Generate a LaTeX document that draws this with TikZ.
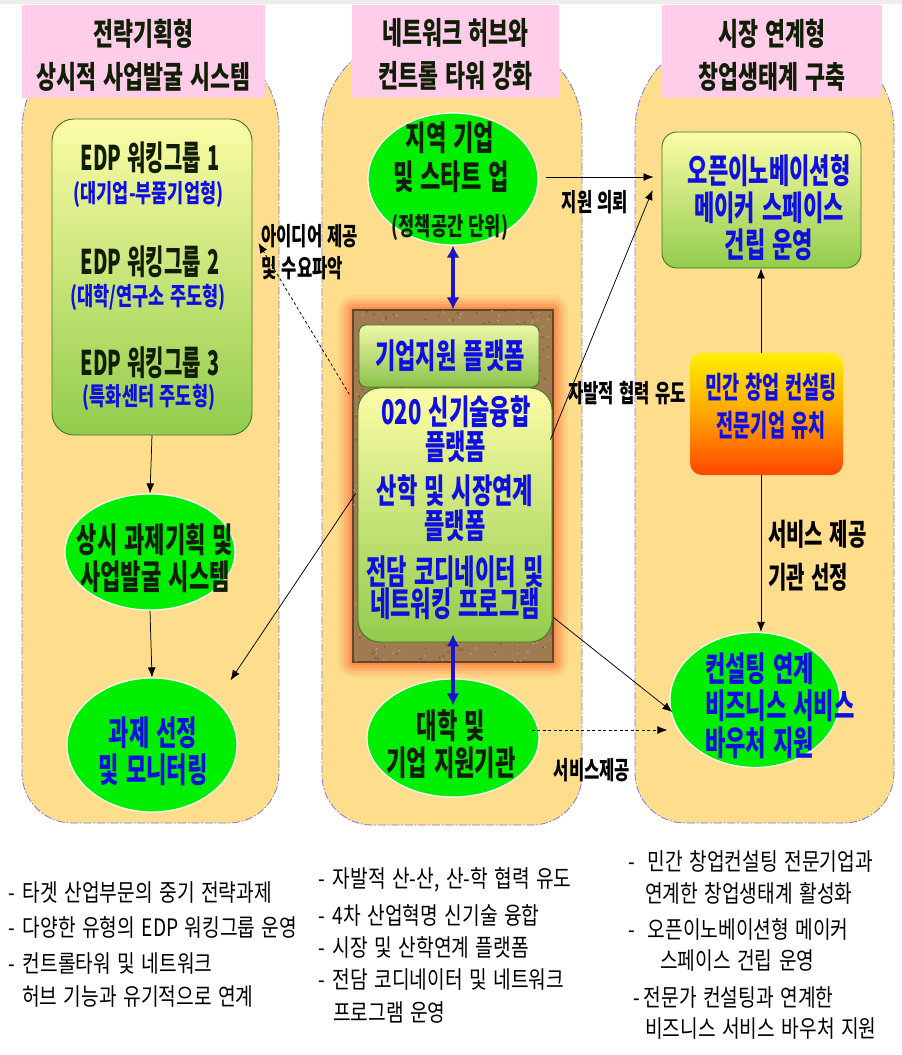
\documentclass[tikz,border=0pt]{standalone}
\usepackage{fontspec}
\setmainfont{Noto Sans CJK KR}
\newfontfamily\KBig{Noto Sans CJK KR}[FakeStretch=0.65,WordSpace=1.4]
\newfontfamily\KEdp{Noto Sans CJK KR}[FakeStretch=0.585,WordSpace=1.4]
\newfontfamily\KHead{Noto Sans CJK KR}[FakeStretch=0.70,WordSpace=1.4]
\newfontfamily\KSm{Noto Sans CJK KR}[FakeStretch=0.70,WordSpace=1.4]
\newfontfamily\KLab{Noto Sans CJK KR}[FakeStretch=0.665,WordSpace=1.4]
\newfontfamily\KMin{Noto Sans CJK KR}[FakeStretch=0.62,WordSpace=1.4]
\newfontfamily\KReg{Noto Sans CJK KR}[FakeStretch=0.8,WordSpace=1.5]
\usetikzlibrary{shapes.geometric,arrows.meta,calc}

\newcommand\fBig{\KBig\bfseries\fontsize{34}{37}\selectfont}
\newcommand\fEdp{\KEdp\bfseries\fontsize{34}{37}\selectfont}
\newcommand\fHead{\KHead\bfseries\fontsize{31}{43}\selectfont}
\newcommand\fSm{\KSm\bfseries\fontsize{25}{28}\selectfont}
\newcommand\fLab{\KLab\bfseries\fontsize{25}{32}\selectfont}
\newcommand\fLabB{\KLab\bfseries\fontsize{30}{43}\selectfont}
\newcommand\fMin{\KMin\bfseries\fontsize{30}{38}\selectfont}
\newcommand\fBot{\KReg\fontsize{24}{33}\selectfont}

\definecolor{colfill}{RGB}{254,221,140}
\definecolor{colline}{RGB}{120,120,230}
\definecolor{hdrpink}{RGB}{255,204,234}
\definecolor{ellgreen}{RGB}{0,238,0}
\definecolor{boxtop}{RGB}{252,252,166}
\definecolor{boxbot}{RGB}{146,204,76}
\definecolor{b1top}{RGB}{238,248,168}
\definecolor{b1bot}{RGB}{140,194,74}
\definecolor{boxline}{RGB}{60,120,40}
\definecolor{tblue}{RGB}{15,15,225}
\definecolor{tdark}{RGB}{15,30,5}
\definecolor{dblblue}{RGB}{30,20,200}
\definecolor{glow}{RGB}{255,120,60}
\definecolor{cork}{RGB}{160,122,80}
\definecolor{corkdark}{RGB}{100,70,40}
\definecolor{corklight}{RGB}{205,170,125}
\definecolor{scrtop}{RGB}{255,240,0}
\definecolor{scrmid}{RGB}{255,165,0}
\definecolor{scrbot}{RGB}{255,70,0}

\begin{document}
\begin{tikzpicture}[x=1pt,y=-1pt,
  colshape/.style={fill=colfill, draw=colline, line width=0.8pt, dash pattern=on 8pt off 2pt on 1.5pt off 2pt},
  hdr/.style={rectangle, fill=hdrpink, draw=none, inner sep=0},
  gbox/.style={rectangle, draw=boxline, line width=0.9pt, top color=boxtop, bottom color=boxbot, inner sep=0},
  gell/.style={ellipse, fill=ellgreen, draw=white, line width=1.2pt, inner sep=0},
  txt/.style={inner sep=0, align=center},
  conn/.style={draw=black, line width=0.75pt, -{Latex[length=10pt,width=8pt]}},
  dconn/.style={conn, dash pattern=on 3pt off 2.5pt},
  dbl/.style={line width=4pt, draw=dblblue, {Latex[length=12pt,width=13pt]}-{Latex[length=12pt,width=13pt]}},
  bot/.style={inner sep=0, anchor=west, font=\fBot, text=black},
]
\useasboundingbox (0,0) rectangle (902,1055);
\fill[white] (0,0) rectangle (902,1055);
\fill[black!7] (0,0) rectangle (902,4);

% columns
\path[colshape] (22,400) [rounded corners=95pt] -- (22,35) -- (279,35) -- (279,400) [rounded corners=50pt] -- (279,823) -- (22,823) -- cycle;
\path[colshape] (322,400) [rounded corners=95pt] -- (322,35) -- (582,35) -- (582,400) [rounded corners=50pt] -- (582,825) -- (322,825) -- cycle;
\path[colshape] (635,400) [rounded corners=95pt] -- (635,35) -- (894,35) -- (894,400) [rounded corners=50pt] -- (894,823) -- (635,823) -- cycle;

% headers
\node[hdr, minimum width=243pt, minimum height=93pt] (hL) at (143.5,51.5) {};
\node[hdr, minimum width=207pt, minimum height=93pt] (hM) at (455.5,51.5) {};
\node[hdr, minimum width=220pt, minimum height=93pt] (hR) at (772,51.5) {};
\node[txt, font=\fHead, text=tdark] (hLt) at (143.5,55) {전략기획형\\상시적 사업발굴 시스템};
\node[txt, font=\fHead, text=tdark] (hMt) at (455.5,54.5) {네트워크 허브와\\컨트롤 타워 강화};
\node[txt, font=\fHead, text=tdark] (hRt) at (772,55.5) {시장 연계형\\창업생태계 구축};

% ---------- left column
\node[gbox, rounded corners=22pt, minimum width=200pt, minimum height=316pt] (edp) at (152,277) {};
\node[txt, font=\fEdp, text=tdark] (w1) at (150,158) {EDP 워킹그룹 1};
\node[txt, font=\fSm, text=tblue] (w1s) at (148.5,194) {(대기업-부품기업형)};
\node[txt, font=\fEdp, text=tdark] (w2) at (150,262) {EDP 워킹그룹 2};
\node[txt, font=\fSm, text=tblue] (w2s) at (148,297) {(대학/연구소 주도형)};
\node[txt, font=\fEdp, text=tdark] (w3) at (150,363) {EDP 워킹그룹 3};
\node[txt, font=\fSm, text=tblue] (w3s) at (149,397.5) {(특화센터 주도형)};

\node[gell, minimum width=170pt, minimum height=116pt] (e1) at (150,552) {};
\node[txt, font=\fBig, text=tdark] (e1t) at (155,558.5) {상시 과제기획 및\\사업발굴 시스템};
\node[gell, minimum width=170pt, minimum height=134pt] (e2) at (152,745) {};
\node[txt, font=\fBig, text=tblue] (e2t) at (153,751.5) {과제 선정\\및 모니터링};

% ---------- middle column
\node[gell, minimum width=170pt, minimum height=132pt] (m1) at (453,179) {};
\node[txt, font=\fBig, text=tdark] (m1a) at (450,137.5) {지역 기업};
\node[txt, font=\fBig, text=tdark] (m1b) at (451,176.5) {및 스타트 업};
\node[txt, font=\fSm, text=tdark] (m1c) at (450,228) {(정책공간 단위)};

\foreach \g/\op in {15/0.10,12/0.15,9/0.22,6/0.3,3/0.45}{
  \fill[glow, opacity=\op, rounded corners=\g pt] (353-\g,310-\g) rectangle (553+\g,662+\g);
}
\node[rectangle, fill=cork, draw=corkdark, line width=1.2pt, minimum width=200pt, minimum height=352pt, inner sep=0] (frame) at (453,486) {};
\begin{scope}
  \clip (frame.north west) rectangle (frame.south east);
  \pgfmathsetseed{11}
  \foreach \i in {1,...,420}{
    \pgfmathsetmacro\px{453+100*rand}
    \pgfmathsetmacro\py{486+176*rand}
    \fill[corkdark, opacity=0.55] (\px,\py) circle (1.1pt);
    \pgfmathsetmacro\qx{453+100*rand}
    \pgfmathsetmacro\qy{486+176*rand}
    \fill[corklight, opacity=0.7] (\qx,\qy) circle (1pt);
  }
\end{scope}
\draw[corkdark, line width=1.5pt] (frame.north west) rectangle (frame.south east);

\node[gbox, rounded corners=7pt, minimum width=180pt, minimum height=62pt, top color=b1top, bottom color=b1bot] (b1) at (449,356) {};
\node[txt, font=\fBig, text=tblue] (b1t) at (450,356) {기업지원 플랫폼};
\node[gbox, rounded corners=22pt, minimum width=194pt, minimum height=254pt] (b2) at (455,515) {};
\node[txt, font=\fBig, text=tblue] (b2a) at (456,412) {020 신기술융합};
\node[txt, font=\fBig, text=tblue] (b2b) at (455.5,447) {플랫폼};
\node[txt, font=\fBig, text=tblue] (b2c) at (455,490.5) {산학 및 시장연계};
\node[txt, font=\fBig, text=tblue] (b2d) at (455,526) {플랫폼};
\node[txt, font=\fBig, text=tblue] (b2e) at (455,572) {전담 코디네이터 및};
\node[txt, font=\fBig, text=tblue] (b2f) at (455,604) {네트워킹 프로그램};

\node[gell, minimum width=172pt, minimum height=118pt] (m2) at (453,738) {};
\node[txt, font=\fBig, text=tdark] (m2t) at (451,744) {대학 및\\기업 지원기관};

% ---------- right column
\node[gbox, rounded corners=15pt, minimum width=199pt, minimum height=136pt] (r1) at (761.5,200) {};
\node[txt, font=\fBig, text=tblue] (r1t) at (769,208) {오픈이노베이션형\\메이커 스페이스\\건립 운영};
\node[rectangle, rounded corners=12pt, minimum width=153pt, minimum height=122pt, top color=scrtop, bottom color=scrbot, middle color=scrmid, inner sep=0] (r2) at (766.5,414) {};
\node[txt, font=\fMin, text=tblue] (r2t) at (771,406.5) {민간 창업 컨설팅\\전문기업 유치};
\node[gell, minimum width=170pt, minimum height=135pt] (r3) at (755,700) {};
\node[inner sep=0, align=left, anchor=west, font=\fBig, text=tblue] (r3t) at (705,706) {컨설팅 연계\\비즈니스 서비스\\바우처 지원};

% ---------- connectors
\coordinate (rx) at (761,0);
\draw[conn] (edp.south) -- (e1.north);
\draw[conn] (e1.south) -- (e2.north);
\draw[dbl] (m1.south) -- (frame.north);
\draw[dbl] ($(b2.south)+(-2,-8)$) -- ($(m2.north)+(0,27)$);
\draw[conn] ($(m1.east)+(7,-2)$) -- ($(m1.east -| r1.west)+(-8,-2)$);
\draw[conn] ($(b2.north east)+(-2,52)$) -- ($(r1.west)+(-9,-10)$);
\draw[dconn] ($(frame.north west)+(-3,85)$) -- ($(edp.east)+(6,-34)$);
\draw[conn] ($(b2.north west)+(-2,106)$) -- ($(e2.north east)+(18,-17)$);
\draw[conn] ($(b2.south east)+(1,-25)$) -- ($(r3.west)+(3,12)$);
\draw[dconn] ($(m2.east)+(-8,-8)$) -- ($(r3.west)+(-2,30)$);
\draw[conn] (rx |- r2.north) -- (rx |- r1.south);
\draw[conn] (rx |- r2.south) -- (rx |- r3.north);

% connector labels
\node[txt, font=\fLab] (lab1) at (595,202) {지원 의뢰};
\node[txt, font=\fLab] (lab2) at (627,393) {자발적 협력 유도};
\node[inner sep=0, align=left, anchor=west, font=\fLab] (lab3) at (261,252) {아이디어 제공\\및 수요파악};
\node[txt, font=\fLab] (lab4) at (592,770) {서비스제공};
\node[inner sep=0, align=left, anchor=west, font=\fLabB] (lab5) at (768,556) {서비스 제공\\기관 선정};

% ---------- bottom notes
\node[bot] (n1) at (8,893) {-\hspace{8pt}타겟 산업부문의 중기 전략과제};
\node[bot] (n2) at (8,927) {-\hspace{8pt}다양한 유형의 EDP 워킹그룹 운영};
\node[bot] (n3) at (8,964) {-\hspace{8pt}컨트롤타워 및 네트워크};
\node[bot] (n4) at (22,996) {허브 기능과 유기적으로 연계};

\node[bot] (n5) at (318,880) {-\hspace{8pt}자발적 산-산, 산-학 협력 유도};
\node[bot] (n6) at (318,915) {-\hspace{8pt}4차 산업혁명 신기술 융합};
\node[bot] (n7) at (318,947) {-\hspace{8pt}시장 및 산학연계 플랫폼};
\node[bot] (n8) at (318,980) {-\hspace{8pt}전담 코디네이터 및 네트워크};
\node[bot] (n9) at (333,1012) {프로그램 운영};

\node[bot] (n10) at (628,861) {-\hspace{13pt}민간 창업컨설팅 전문기업과};
\node[bot] (n11) at (645,893) {연계한 창업생태계 활성화};
\node[bot] (n12) at (628,929) {-\hspace{13pt}오픈이노베이션형 메이커};
\node[bot] (n13) at (660,961) {스페이스 건립 운영};
\node[bot] (n14) at (633,997) {-\hspace{4pt}전문가 컨설팅과 연계한};
\node[bot] (n15) at (645,1029) {비즈니스 서비스 바우처 지원};
\end{tikzpicture}
\end{document}
